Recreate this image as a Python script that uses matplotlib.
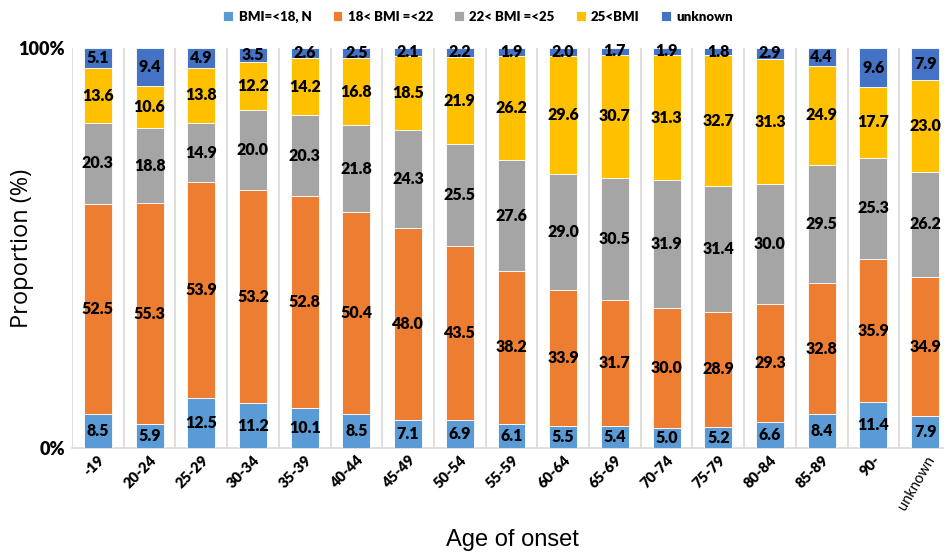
import matplotlib
matplotlib.use("Agg")
import matplotlib.pyplot as plt
import numpy as np

plt.rcParams['font.family'] = ['Lato', 'DejaVu Sans']

categories = ["-19", "20-24", "25-29", "30-34", "35-39", "40-44", "45-49", "50-54",
              "55-59", "60-64", "65-69", "70-74", "75-79", "80-84", "85-89", "90-", "unknown"]

series_names = ["BMI=<18, N", "18< BMI =<22", "22< BMI =<25", "25<BMI", "unknown"]

bmi_le18 = [8.5, 5.9, 12.5, 11.2, 10.1, 8.5, 7.1, 6.9, 6.1, 5.5, 5.4, 5.0, 5.2, 6.6, 8.4, 11.4, 7.9]
bmi_18_22 = [52.5, 55.3, 53.9, 53.2, 52.8, 50.4, 48.0, 43.5, 38.2, 33.9, 31.7, 30.0, 28.9, 29.3, 32.8, 35.9, 34.9]
bmi_22_25 = [20.3, 18.8, 14.9, 20.0, 20.3, 21.8, 24.3, 25.5, 27.6, 29.0, 30.5, 31.9, 31.4, 30.0, 29.5, 25.3, 26.2]
bmi_gt25 = [13.6, 10.6, 13.8, 12.2, 14.2, 16.8, 18.5, 21.9, 26.2, 29.6, 30.7, 31.3, 32.7, 31.3, 24.9, 17.7, 23.0]
bmi_unknown = [5.1, 9.4, 4.9, 3.5, 2.6, 2.5, 2.1, 2.2, 1.9, 2.0, 1.7, 1.9, 1.8, 2.9, 4.4, 9.6, 7.9]

colors = ["#5B9BD5", "#ED7D31", "#A5A5A5", "#FFC000", "#4472C4"]

series = [bmi_le18, bmi_18_22, bmi_22_25, bmi_gt25, bmi_unknown]

fig = plt.figure(figsize=(9.44, 5.54), dpi=100)
ax = fig.add_axes([72 / 944, 106 / 554, 879 / 944, 400 / 554])

x = np.arange(len(categories))
bottom = np.zeros(len(categories))
handles = []
for vals, col, name in zip(series, colors, series_names):
    vals = np.array(vals)
    bars = ax.bar(x, vals, width=0.54, bottom=bottom, color=col,
                  edgecolor="white", linewidth=0.6, label=name, zorder=3)
    handles.append(bars)
    for xi, b, v in zip(x, bottom, vals):
        ax.text(xi, b + v / 2, f"{v:.1f}", ha="center", va="center",
                fontsize=11.5, fontweight="heavy", color="black", zorder=4)
    bottom += vals

ax.set_xlim(-0.5, len(categories) - 0.5)
ax.set_ylim(0, 100)

# light separators between categories
for b in np.arange(-0.5, len(categories) - 0.5, 1.0):
    ax.axvline(b, color="#D9D9D9", linewidth=1.2, zorder=1)

ax.set_yticks([0, 100])
ax.set_yticklabels(["0%", "100%"], fontsize=13, fontweight="heavy")
ax.tick_params(axis="y", length=0, pad=5)

ax.set_xticks(x)
ax.tick_params(axis="x", length=0, pad=4)
labels = ax.set_xticklabels(categories, fontsize=10.5, fontweight="heavy",
                            rotation=45, ha="right", rotation_mode="anchor")
labels[-1].set_fontweight("normal")
labels[-1].set_rotation(60)

for s in ["top", "right", "left"]:
    ax.spines[s].set_visible(False)
ax.spines["bottom"].set_color("#D9D9D9")
ax.spines["bottom"].set_linewidth(1.2)

fig.text(22 / 944, 1 - 248 / 554, "Proportion (%)", rotation=90, ha="center", va="center",
         fontsize=17, family=["Open Sans", "DejaVu Sans"])
fig.text(512 / 944, 1 - 540 / 554, "Age of onset", ha="center", va="center",
         fontsize=17, family=["Liberation Sans Narrow", "Liberation Sans", "DejaVu Sans"])

fig.legend(handles, series_names, loc="center", bbox_to_anchor=(478 / 944, 1 - 17 / 554),
           ncol=5, frameon=False, prop={"weight": "heavy", "size": 9.5},
           handlelength=0.75, handleheight=0.75, handletextpad=0.4, columnspacing=1.6)

fig.savefig("out.png", dpi=100)
